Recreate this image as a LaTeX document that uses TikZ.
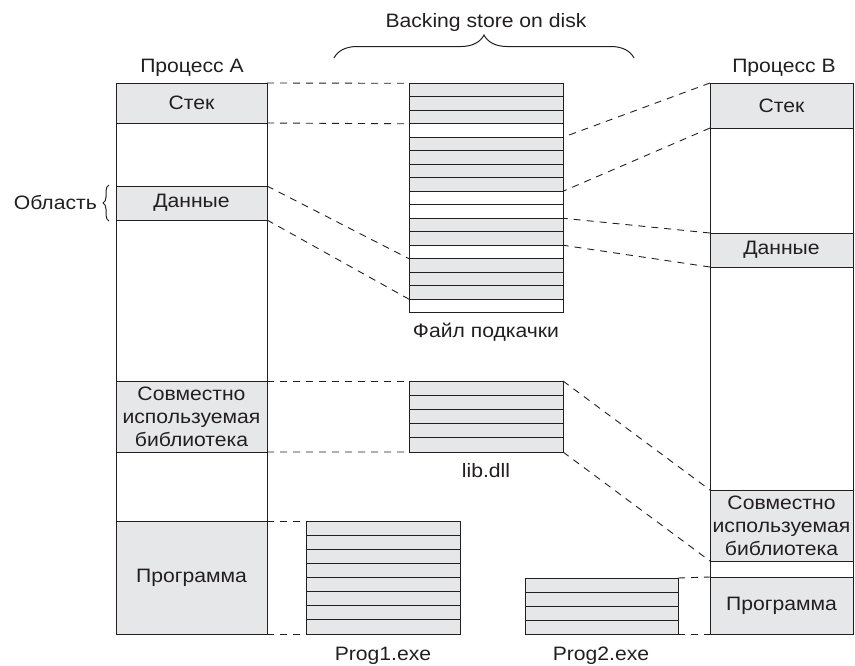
\documentclass[tikz,border=0pt]{standalone}
\usepackage{fontspec}
\setmainfont[FakeStretch=1.09]{Liberation Sans}
\usetikzlibrary{decorations.pathreplacing}
\definecolor{gr}{HTML}{E6E7E8}
\definecolor{ln}{HTML}{231F20}
\begin{document}
\begin{tikzpicture}[x=1pt,y=-1pt,
  every node/.style={font=\fontsize{19.4}{23}\selectfont, text=ln},
  seg/.style={draw=ln, line width=1pt, fill=gr, inner sep=0pt, outer sep=0pt, anchor=north west, align=center},
  col/.style={draw=ln, line width=1pt, fill=white, inner sep=0pt, outer sep=0pt, anchor=north west},
  strip/.style={draw=ln, line width=0.9pt, inner sep=0pt, outer sep=0pt, anchor=north west},
  link/.style={draw=ln, line width=0.9pt, dash pattern=on 7pt off 6pt},
  lbl/.style={anchor=base, inner sep=0pt},
  brc/.style={draw=ln, line width=1pt, decorate}
]
\useasboundingbox (0,0) rectangle (855,665);

% Process A
\node[col, minimum width=151pt, minimum height=551pt] (colA) at (116,83) {};
\node[seg, minimum width=151pt, minimum height=40pt] (aStack) at (116,83) {Стек};
\node[seg, minimum width=151pt, minimum height=34pt] (aData) at (116,186) {Данные};
\node[seg, minimum width=151pt, minimum height=71pt] (aLib) at (116,381) {Совместно\\используемая\\библиотека};
\node[seg, minimum width=151pt, minimum height=113pt] (aProg) at (116,521) {Программа};

% Process B
\node[col, minimum width=143pt, minimum height=551pt] (colB) at (710,83) {};
\node[seg, minimum width=143pt, minimum height=45pt] (bStack) at (710,83) {Стек};
\node[seg, minimum width=143pt, minimum height=34pt] (bData) at (710,233) {Данные};
\node[seg, minimum width=143pt, minimum height=71pt] (bLib) at (710,490) {Совместно\\используемая\\библиотека};
\node[seg, minimum width=143pt, minimum height=57pt] (bProg) at (710,577) {Программа};

% Backing store (swap file)
\foreach \k/\f in {0/gr,1/gr,2/gr,3/white,4/gr,5/gr,6/gr,7/gr,8/white,9/white,10/gr,11/gr,12/white,13/gr,14/gr,15/gr,16/white}
  \node[strip, fill=\f, minimum width=154pt, minimum height=13.494pt] (s\k) at (409,{83.3+\k*13.494}) {};
\draw[ln, line width=1pt] (s0.north west) rectangle (s16.south east);

% lib.dll
\foreach \k in {0,...,4}
  \node[strip, fill=gr, minimum width=154pt, minimum height=14.2pt] (l\k) at (409,{381+\k*14.2}) {};
\draw[ln, line width=1pt] (l0.north west) rectangle (l4.south east);

% Prog1.exe
\foreach \k in {0,...,7}
  \node[strip, fill=gr, minimum width=154pt, minimum height=14.125pt] (p\k) at (306,{521+\k*14.125}) {};
\draw[ln, line width=1pt] (p0.north west) rectangle (p7.south east);

% Prog2.exe
\foreach \k in {0,...,3}
  \node[strip, fill=gr, minimum width=153pt, minimum height=14pt] (q\k) at (525,{578+\k*14}) {};
\draw[ln, line width=1pt] (q0.north west) rectangle (q3.south east);

% dashed connectors
\draw[link] (aStack.north east) -- (s0.north west);
\draw[link] (aStack.south east) -- (s2.south west);
\draw[link] (aData.north east) -- (s13.north west);
\draw[link] (aData.south east) -- (s15.south west);
\draw[link] (bStack.north west) -- (s4.north east);
\draw[link] (bStack.south west) -- (s7.south east);
\draw[link] (bData.north west) -- (s10.north east);
\draw[link] (bData.south west) -- (s11.south east);
\draw[link] (aLib.north east) -- (l0.north west);
\draw[link] (aLib.south east) -- (l4.south west);
\draw[link] (l0.north east) -- (bLib.north west);
\draw[link] (l4.south east) -- (bLib.south west);
\draw[link] (aProg.north east) -- (p0.north west);
\draw[link] (aProg.south east) -- (p7.south west);
\draw[link] (q0.north east) -- (bProg.north west);
\draw[link] (q3.south east) -- (bProg.south west);

% braces
\draw[brc, decoration={brace, amplitude=23pt, aspect=0.5}] (334,58) -- (634,58);
\draw[brc, decoration={brace, amplitude=6pt}] (109,221) -- (109,185);

% labels
\node[lbl] (tBack) at (486,27) {Backing store on disk};
\node[lbl] (tA) at (192,72) {Процесс A};
\node[lbl] (tB) at (784,72) {Процесс B};
\node[lbl] (tSwap) at (486,337) {Файл подкачки};
\node[lbl] (tLib) at (486,477) {lib.dll};
\node[lbl] (tP1) at (383,660) {Prog1.exe};
\node[lbl] (tP2) at (601,660) {Prog2.exe};
\node[lbl, anchor=base east] (tReg) at (97,209) {Область};
\end{tikzpicture}
\end{document}
